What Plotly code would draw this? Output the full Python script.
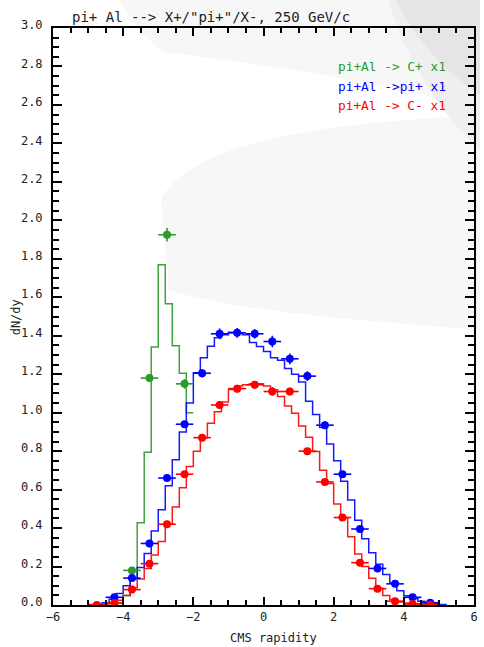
import plotly.graph_objects as go

# ---------------- data ----------------
# data points (bin centres, dN/dy, vertical error)
green_x = [-3.75, -3.25, -2.75, -2.25]
green_y = [0.18, 1.18, 1.925, 1.15]
green_ey = [0.015, 0.02, 0.035, 0.025]

blue_x = [-4.25, -3.75, -3.25, -2.75, -2.25, -1.75, -1.25, -0.75, -0.25, 0.25,
          0.75, 1.25, 1.75, 2.25, 2.75, 3.25, 3.75, 4.25, 4.75]
blue_y = [0.04, 0.14, 0.32, 0.66, 0.94, 1.205, 1.41, 1.415, 1.41, 1.37,
          1.28, 1.19, 0.935, 0.68, 0.395, 0.19, 0.11, 0.04, 0.012]
blue_ey = [0.006, 0.01, 0.012, 0.015, 0.015, 0.022, 0.028, 0.025, 0.025, 0.03,
           0.028, 0.025, 0.02, 0.015, 0.012, 0.01, 0.008, 0.006, 0.004]

red_x = [-4.75, -4.25, -3.75, -3.25, -2.75, -2.25, -1.75, -1.25, -0.75, -0.25,
         0.25, 0.75, 1.25, 1.75, 2.25, 2.75, 3.25, 3.75, 4.25, 4.75]
red_y = [0.0, 0.01, 0.08, 0.215, 0.42, 0.68, 0.87, 1.04, 1.125, 1.145,
         1.11, 1.11, 0.80, 0.64, 0.455, 0.22, 0.085, 0.02, 0.005, 0.0]
red_ey = [0.003, 0.004, 0.008, 0.01, 0.012, 0.015, 0.015, 0.018, 0.02, 0.02,
          0.022, 0.02, 0.015, 0.015, 0.012, 0.01, 0.008, 0.005, 0.003, 0.002]

x_half_bin = 0.25

# model histograms (bin width 0.2)
mc_width = 0.2
green_mc_start = -4.2
green_mc = [0.01, 0.05, 0.14, 0.428, 0.794, 1.341, 1.769, 1.566, 1.348, 1.205, 1.0]

blue_mc_start = -4.8
blue_mc = [0.005, 0.012, 0.03, 0.06, 0.10, 0.135, 0.195, 0.268, 0.385, 0.495,
           0.62, 0.755, 0.90, 1.05, 1.207, 1.285, 1.345, 1.39, 1.405, 1.418,
           1.413, 1.405, 1.365, 1.344, 1.318, 1.285, 1.272, 1.23, 1.20, 1.16,
           1.06, 0.99, 0.923, 0.837, 0.75, 0.644, 0.546, 0.44, 0.345, 0.272,
           0.212, 0.158, 0.114, 0.074, 0.048, 0.034, 0.02, 0.011, 0.006, 0.003]

red_mc_start = -5.0
red_mc = [0.002, 0.003, 0.005, 0.012, 0.025, 0.05, 0.09, 0.135, 0.19, 0.26,
          0.33, 0.42, 0.51, 0.61, 0.72, 0.80, 0.87, 0.945, 1.005, 1.055,
          1.12, 1.139, 1.145, 1.15, 1.15, 1.139, 1.119, 1.084, 1.035, 0.997,
          0.931, 0.872, 0.798, 0.70, 0.632, 0.525, 0.452, 0.355, 0.265, 0.20,
          0.139, 0.087, 0.05, 0.028, 0.015, 0.01, 0.007, 0.005, 0.003, 0.002]

legend_labels = ["pi+Al -> C+ x1", "pi+Al ->pi+ x1", "pi+Al -> C- x1"]
title_text = 'pi+ Al --> X+/"pi+"/X-, 250 GeV/c'
x_title = "CMS rapidity"
y_title = "dN/dy"

# ---------------- style ----------------
GREEN = "#2b9a2b"
BLUE = "#0000ff"
RED = "#ff0000"
W, H = 484, 647
L, R, T, B = 53, 478, 28, 605
MONO = "DejaVu Sans Mono, Liberation Mono, monospace"


def hist_xy(start, vals, close_right=True):
    xs = [start + i * mc_width for i in range(len(vals) + 1)]
    ys = list(vals) + [vals[-1]]
    if close_right:
        xs = [xs[0]] + xs + [xs[-1]]
        ys = [0.0] + list(vals) + [0.0, 0.0]
    else:
        xs = [xs[0]] + xs
        ys = [0.0] + ys
    return xs, ys


def pp(x, y):
    return (x - L) / (R - L), 1 - (y - T) / (B - T)


def path(cmds):
    out = []
    for c in cmds:
        if c[0] in ("M", "L"):
            px, py = pp(c[1], c[2])
            out.append(f"{c[0]} {px:.4f},{py:.4f}")
        elif c[0] == "C":
            a = pp(c[1], c[2]); b = pp(c[3], c[4]); d = pp(c[5], c[6])
            out.append(f"C {a[0]:.4f},{a[1]:.4f} {b[0]:.4f},{b[1]:.4f} {d[0]:.4f},{d[1]:.4f}")
        elif c[0] == "Z":
            out.append("Z")
    return " ".join(out)


fig = go.Figure()

# histograms
for start, vals, col, close in [(green_mc_start, green_mc, GREEN, False),
                                (blue_mc_start, blue_mc, BLUE, True),
                                (red_mc_start, red_mc, RED, True)]:
    hx, hy = hist_xy(start, vals, close)
    fig.add_trace(go.Scatter(x=hx, y=hy, mode="lines", line=dict(color=col, width=1.5, shape="hv"),
                             opacity=0.9, hoverinfo="skip", showlegend=False))

# points
for xs, ys, eys, col in [(green_x, green_y, green_ey, GREEN),
                         (blue_x, blue_y, blue_ey, BLUE),
                         (red_x, red_y, red_ey, RED)]:
    fig.add_trace(go.Scatter(
        x=xs, y=ys, mode="markers",
        marker=dict(color=col, size=8, line=dict(width=0)),
        error_x=dict(type="constant", value=x_half_bin, color=col, thickness=1.6, width=0),
        error_y=dict(type="data", array=eys, color=col, thickness=1.6, width=0),
        showlegend=False))


def bg(cmds, color):
    return dict(type="path", xref="paper", yref="paper", layer="below", line=dict(width=0),
                fillcolor=color, path=path(cmds))


# background decoration (faint grey swoosh)
shapes = [
    bg([("M", 162, 200), ("C", 185, 150, 300, 122, 484, 116), ("L", 484, 330),
        ("C", 380, 322, 240, 312, 170, 290), ("Z",)], "#f7f7f7"),
    bg([("M", 120, 0), ("C", 135, 25, 150, 42, 165, 52), ("C", 260, 64, 380, 80, 484, 110),
        ("L", 484, 0), ("Z",)], "#f7f7f7"),
    bg([("M", 392, 0), ("C", 405, 50, 440, 110, 484, 150), ("L", 484, 0), ("Z",)], "#efefef"),
    bg([("M", 400, 0), ("C", 412, 30, 445, 70, 484, 95), ("L", 484, 0), ("Z",)], "#e5e5e5"),
]

annotations = [
    dict(text=title_text, xref="paper", yref="paper", x=pp(70, 0)[0], y=pp(0, 17)[1],
         xanchor="left", yanchor="middle", showarrow=False,
         font=dict(family=MONO, size=14, color="#222222")),
    dict(text=x_title, xref="paper", yref="paper", x=pp(275.5, 0)[0], y=pp(0, 638)[1],
         xanchor="center", yanchor="middle", showarrow=False,
         font=dict(family=MONO, size=12, color="#222222")),
    dict(text=y_title, xref="paper", yref="paper", x=pp(16, 0)[0], y=pp(0, 317)[1],
         xanchor="center", yanchor="middle", showarrow=False, textangle=-90,
         font=dict(family=MONO, size=12, color="#222222")),
]
for i, (lab, col) in enumerate(zip(legend_labels, [GREEN, BLUE, RED])):
    annotations.append(dict(text=lab, xref="paper", yref="paper", x=pp(452, 0)[0],
                            y=pp(0, 66 + 20 * i)[1], xanchor="right", yanchor="middle",
                            showarrow=False, font=dict(family=MONO, size=12.8, color=col)))

fig.update_layout(
    width=W, height=H, margin=dict(l=L, r=W - R, t=T, b=H - B),
    paper_bgcolor="white", plot_bgcolor="rgba(0,0,0,0)",
    shapes=shapes, annotations=annotations, showlegend=False,
    xaxis=dict(range=[-6, 6], tickmode="linear", tick0=-6, dtick=2, ticks="inside",
               ticklen=8, tickwidth=1.5, tickcolor="black", showgrid=False, zeroline=False,
               showline=True, linecolor="black", linewidth=2, mirror="allticks",
               tickfont=dict(family=MONO, size=12, color="#222222"),
               minor=dict(dtick=0.5, tick0=-6, ticks="inside", ticklen=5, tickwidth=1.5,
                          tickcolor="black", showgrid=False)),
    yaxis=dict(range=[0, 3], tickmode="linear", tick0=0, dtick=0.2, tickformat=".1f",
               ticks="inside", ticklen=9, tickwidth=1.5, tickcolor="black", showgrid=False,
               zeroline=False, showline=True, linecolor="black", linewidth=2, mirror="allticks",
               tickfont=dict(family=MONO, size=12, color="#222222"), ticklabelstandoff=6,
               ticklabelshift=-3,
               minor=dict(dtick=0.05, tick0=0, ticks="inside", ticklen=6, tickwidth=1.5,
                          tickcolor="black", showgrid=False)),
)

fig.write_html("out.html")
